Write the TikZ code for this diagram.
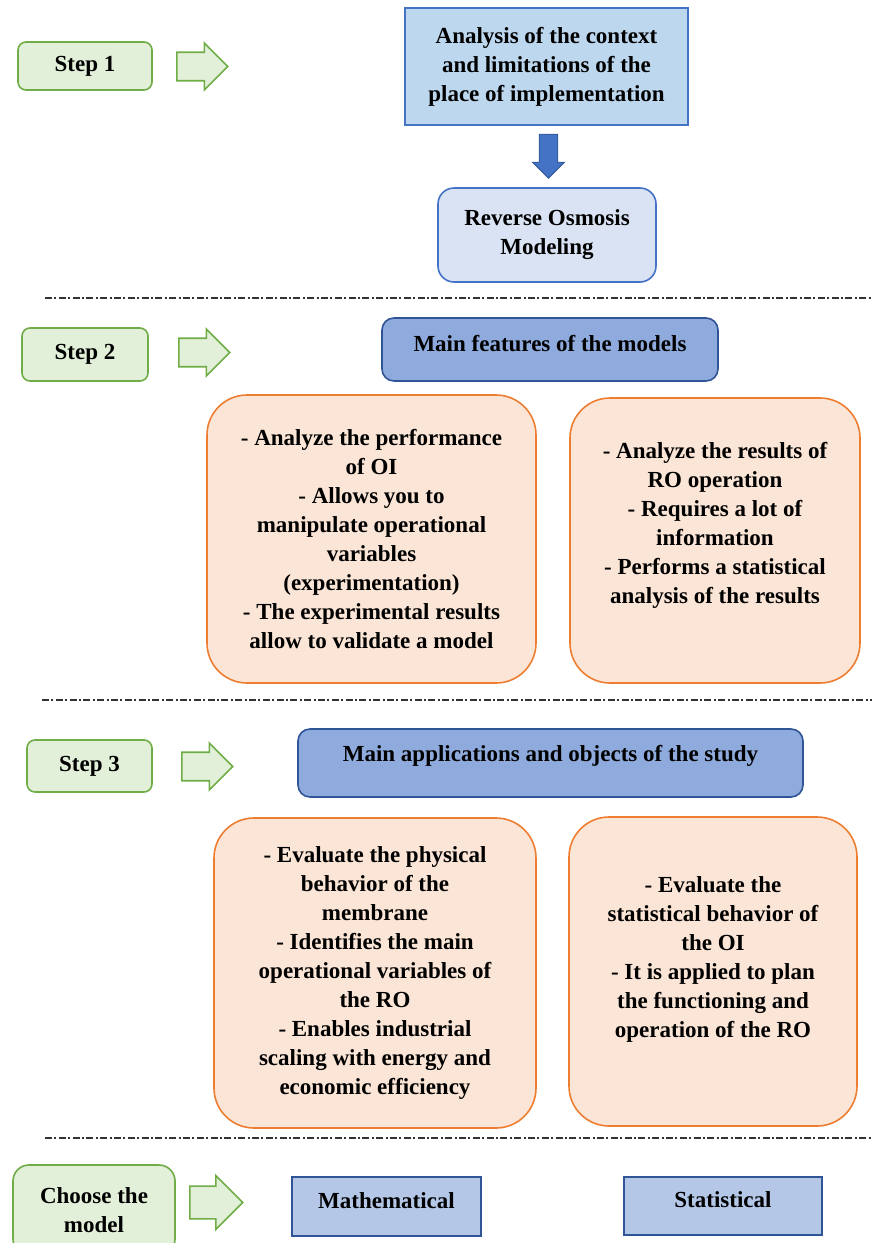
\documentclass[tikz,border=0pt]{standalone}
\usepackage{fontspec}
\setmainfont{Liberation Serif}
\usetikzlibrary{shapes.arrows,calc}
\definecolor{gfill}{HTML}{E2F0D9}
\definecolor{gline}{HTML}{70AD47}
\definecolor{topfill}{HTML}{BDD7EE}
\definecolor{bline}{HTML}{4472C4}
\definecolor{dline}{HTML}{2F5597}
\definecolor{rofill}{HTML}{DAE3F3}
\definecolor{featfill}{HTML}{8FAADC}
\definecolor{ofill}{HTML}{FBE5D6}
\definecolor{oline}{HTML}{ED7D31}
\definecolor{mfill}{HTML}{B4C7E7}
\begin{document}
\begin{tikzpicture}[x=0.5pt,y=-0.5pt,
  txt/.style={font=\fontsize{11.5}{14.5}\selectfont\bfseries, align=center, text=black},
  stepbox/.style={txt, draw=gline, fill=gfill, line width=0.8pt, rounded corners=4pt},
  harrow/.style={single arrow, draw=gline, fill=gfill, line width=0.8pt, anchor=tail,
    minimum height=25.5pt, minimum width=23.5pt, inner xsep=0pt, inner ysep=5.75pt,
    single arrow head extend=4pt},
  darrow/.style={single arrow, draw=dline, fill=bline, line width=0.4pt, anchor=tail,
    minimum height=22pt, minimum width=16pt, inner xsep=0pt, inner ysep=4pt,
    single arrow head extend=3pt},
  obox/.style={txt, draw=oline, fill=ofill, line width=0.8pt, rounded corners=20pt},
  sep/.style={draw=black!80, line width=0.6pt, dash pattern=on 3.5pt off 1.2pt on 1pt off 1.2pt}
]
\useasboundingbox (0,0) rectangle (872,1243);

% ---- Step 1 ----
\node[stepbox, minimum width=67pt, minimum height=24pt] (s1) at (85,66) {Step 1};
\node[harrow] (a1) at (176,66.5) {};
\node[txt, draw=bline, fill=topfill, line width=0.8pt, minimum width=141.5pt, minimum height=58.5pt]
  (top) at (546.5,66.5) {Analysis of the context\\ and limitations of the\\ place of implementation};
\node[txt, draw=bline, fill=rofill, line width=0.8pt, rounded corners=8pt, minimum width=109pt, minimum height=47pt]
  (ro) at (547,235) {Reverse Osmosis\\ Modeling};
\node[darrow, rotate=-90] (dn) at ($(top.south)+(2,8)$) {};
\draw[sep] (45,298) -- (872,298);

% ---- Step 2 ----
\node[stepbox, minimum width=63pt, minimum height=26.5pt] (s2) at (85,354.5) {Step 2};
\node[harrow] (a2) at (178,352.5) {};
\node[draw=dline, fill=featfill, line width=0.8pt, rounded corners=6pt, minimum width=168pt, minimum height=31.5pt,
  label={[txt, name=featt, yshift=3pt]center:Main features of the models}]
  (feat) at (550,349.5) {};
\node[obox, minimum width=164.5pt, minimum height=144pt] (l2) at (371.5,539)
  {- Analyze the performance\\ of OI\\ - Allows you to\\ manipulate operational\\ variables\\ (experimentation)\\ - The experimental results\\ allow to validate a model};
\node[obox, minimum width=145pt, minimum height=142.5pt,
  label={[txt, name=r2t, yshift=7.5pt]center:{- Analyze the results of\\ RO operation\\ - Requires a lot of\\ information\\ - Performs a statistical\\ analysis of the results}}]
  (r2) at (715,540.5) {};
\draw[sep] (42,700) -- (872,700);

% ---- Step 3 ----
\node[stepbox, minimum width=62.5pt, minimum height=26pt] (s3) at (89.5,766) {Step 3};
\node[harrow] (a3) at (181,766.5) {};
\node[draw=dline, fill=featfill, line width=0.8pt, rounded corners=6pt, minimum width=252.5pt, minimum height=34pt,
  label={[txt, name=appt, yshift=3.5pt]center:Main applications and objects of the study}]
  (app) at (550.5,763) {};
\node[obox, minimum width=161pt, minimum height=155pt] (l3) at (375,973)
  {- Evaluate the physical\\ behavior of the\\ membrane\\ - Identifies the main\\ operational variables of\\ the RO\\ - Enables industrial\\ scaling with energy and\\ economic efficiency};
\node[obox, minimum width=144pt, minimum height=154.5pt,
  label={[txt, name=r3t, yshift=6pt]center:{- Evaluate the\\ statistical behavior of\\ the OI\\ - It is applied to plan\\ the functioning and\\ operation of the RO}}]
  (r3) at (713,971.5) {};
\draw[sep] (45,1138) -- (872,1138);

% ---- Choose the model ----
\node[stepbox, rounded corners=8pt, minimum width=81pt, minimum height=45pt] (cm) at (94,1210) {Choose the\\ model};
\node[harrow, minimum width=27pt, minimum height=26.5pt] (a4) at (189,1202.5) {};
\node[draw=dline, fill=mfill, line width=0.8pt, minimum width=94.5pt, minimum height=29.5pt,
  label={[txt, name=matht, yshift=3pt]center:Mathematical}]
  (math) at (386.5,1206.5) {};
\node[draw=dline, fill=mfill, line width=0.8pt, minimum width=99pt, minimum height=29pt,
  label={[txt, name=statt, yshift=3pt]center:Statistical}]
  (stat) at (723,1206) {};
\end{tikzpicture}
\end{document}
